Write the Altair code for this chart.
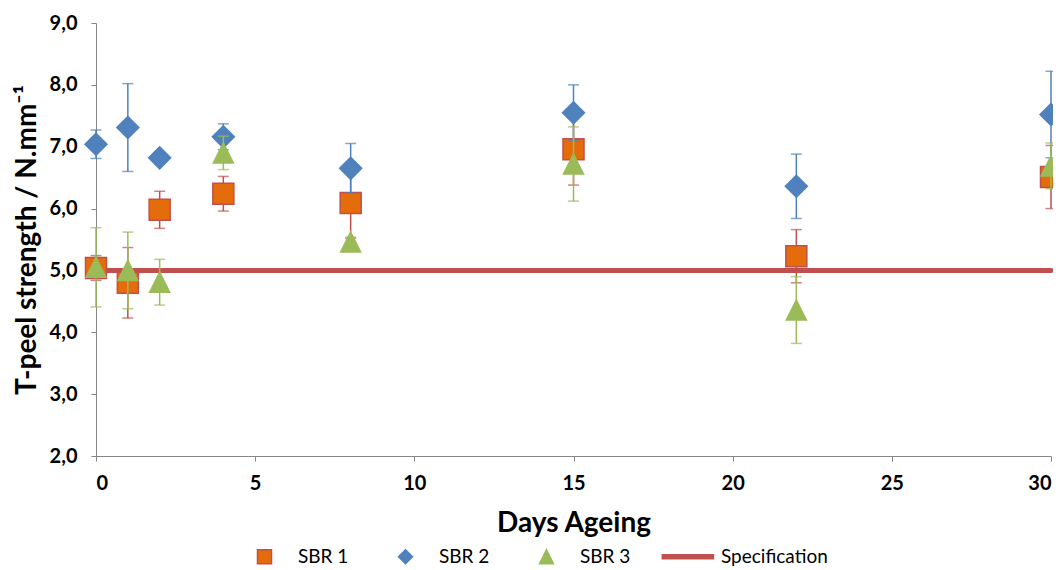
import altair as alt
import pandas as pd

# ---- data ----
days = [0, 1, 2, 4, 8, 15, 22, 30]
series_names = ["SBR 1", "SBR 2", "SBR 3"]
spec_name = "Specification"

sbr1 = [5.04, 4.80, 5.98, 6.24, 6.09, 6.96, 5.23, 6.51]
sbr1_err = [0.20, 0.57, 0.30, 0.28, 0.57, 0.58, 0.43, 0.51]
sbr2 = [7.04, 7.31, 6.82, 7.16, 6.65, 7.55, 6.36, 7.52]
sbr2_err = [0.23, 0.71, 0.10, 0.21, 0.40, 0.45, 0.52, 0.70]
sbr3 = [5.05, 5.00, 4.81, 6.90, 5.46, 6.72, 4.36, 6.69]
sbr3_err = [0.64, 0.62, 0.37, 0.27, 0.08, 0.60, 0.54, 0.37]

spec_days = [0, 30]
spec_values = [5.0, 5.0]

x_ticks = [0, 5, 10, 15, 20, 25, 30]
y_ticks = [2, 3, 4, 5, 6, 7, 8, 9]

# ---- styles ----
fill_range = ["#E46C0A", "#4F81BD", "#9BBB59", "#C0504D"]
stroke_range = ["#C0504D", "#4F81BD", "#9BBB59", "#C0504D"]
# leading "M-3.6,0" only widens the symbol bounds equally for all legend entries
shape_range = [
    "M-3.6,0M-1,-1H1V1H-1Z",
    "M-3.6,0M-1,0L0,-1L1,0L0,1Z",
    "M-3.6,0M0,-1L1,1L-1,1Z",
    "M-3.6,-0.29H3.7V0.29H-3.6Z",
]
err_colors = ["#C0504D", "#4F81BD", "#9BBB59"]
sizes = [441, 484, 400]

rows = []
for name, vals, errs in zip(series_names, [sbr1, sbr2, sbr3], [sbr1_err, sbr2_err, sbr3_err]):
    for d, v, e in zip(days, vals, errs):
        rows.append({"day": d, "value": v, "lo": v - e, "hi": v + e, "series": name})
df = pd.DataFrame(rows)
spec_df = pd.DataFrame({"day": spec_days, "value": spec_values})

domain = series_names + [spec_name]

x_enc = alt.X("day:Q", scale=alt.Scale(domain=[0, 30], nice=False),
              axis=alt.Axis(values=x_ticks, title="Days Ageing", labelPadding=12,
                            titleX=477.5, titleY=67, titleBaseline="middle"))
y_enc = alt.Y("value:Q", scale=alt.Scale(domain=[2, 9], nice=False),
              axis=alt.Axis(values=y_ticks, title="T-peel strength / N.mm\u207b\u00b9",
                            labelExpr="replace(format(datum.value, '.1f'), '.', ',')",
                            labelPadding=14, titleX=-69, titleY=216.5,
                            titleAngle=-90, titleAlign="center", titleBaseline="middle"))

legend = alt.Legend(title=None, orient="none", legendX=159, legendY=524,
                    direction="horizontal", columns=4, columnPadding=28,
                    labelOffset=24, labelFont="Lato", labelFontSize=19,
                    labelColor="#000000", symbolSize=196, symbolStrokeWidth=1.5,
                    symbolOpacity=1, padding=0, labelLimit=0)

fill_enc = alt.Fill("series:N", scale=alt.Scale(domain=domain, range=fill_range), legend=legend)
stroke_enc = alt.Stroke("series:N", scale=alt.Scale(domain=domain, range=stroke_range), legend=legend)
shape_enc = alt.Shape("series:N", scale=alt.Scale(domain=domain, range=shape_range), legend=legend)

layers = [
    alt.Chart(spec_df).mark_line(color="#C0504D", strokeWidth=5, strokeCap="round").encode(x=x_enc, y=y_enc)
]

for name, col, sz in zip(series_names, err_colors, sizes):
    base = alt.Chart(df).transform_filter(alt.datum.series == name)
    layers.append(base.mark_rule(color=col, strokeWidth=1.5).encode(x="day:Q", y="lo:Q", y2="hi:Q"))
    layers.append(base.mark_tick(orient="horizontal", color=col, size=11, thickness=1.5).encode(x="day:Q", y="lo:Q"))
    layers.append(base.mark_tick(orient="horizontal", color=col, size=11, thickness=1.5).encode(x="day:Q", y="hi:Q"))
    layers.append(base.mark_point(opacity=1, size=sz, strokeWidth=1.5).encode(
        x="day:Q", y="value:Q", fill=fill_enc, stroke=stroke_enc, shape=shape_enc))

chart = alt.layer(*layers).properties(
    width=955, height=433,
    padding={"left": 88, "top": 15, "right": 2, "bottom": 112},
    autosize=alt.AutoSizeParams(type="none"),
).configure_view(stroke=None).configure_axis(
    grid=False, domainColor="#868686", tickColor="#868686", tickSize=5,
    labelFont="Lato", labelFontWeight="bold", labelFontSize=20, labelColor="#000000",
    titleFont="Lato", titleFontWeight="bold", titleFontSize=28, titleColor="#000000",
)

chart.save("out.html", embed_options={"renderer": "svg", "actions": False})
